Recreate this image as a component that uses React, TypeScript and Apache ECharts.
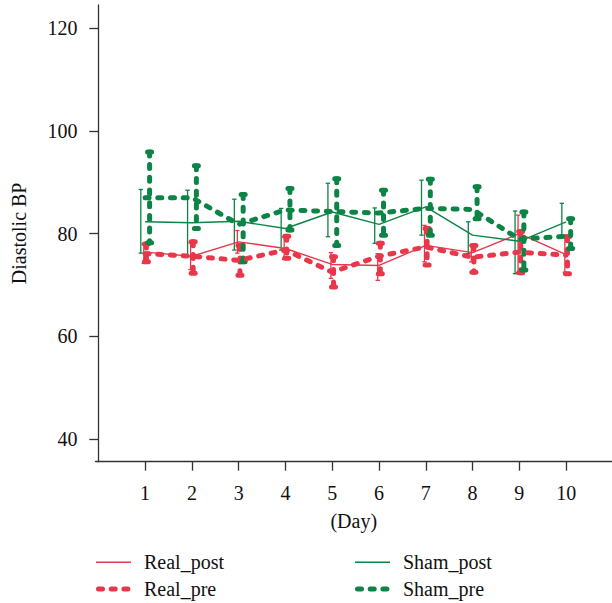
import React, { useEffect, useRef } from "react";
import * as echarts from "echarts";

const days = [1, 2, 3, 4, 5, 6, 7, 8, 9, 10];
const yTicks = [40, 60, 80, 100, 120];

const realPost = [76.4, 75.6, 78.4, 77.1, 74.0, 73.8, 77.7, 76.3, 80.0, 75.9];
const realPostHi = [78.0, 78.2, 80.6, 79.3, 76.3, 76.1, 81.6, 77.7, 83.6, 79.7];
const realPostLo = [74.2, 73.0, 76.2, 75.0, 71.3, 70.9, 74.5, 74.5, 72.4, 72.5];

const realPre = [76.1, 75.6, 74.8, 76.8, 72.5, 75.6, 77.4, 75.4, 76.4, 75.8];
const realPreHi = [78.0, 78.4, 77.7, 79.5, 75.5, 78.1, 81.0, 77.7, 80.4, 79.4];
const realPreLo = [74.5, 72.3, 71.9, 75.2, 69.6, 72.2, 73.9, 72.5, 72.4, 72.2];

const shamPost = [82.3, 82.1, 82.4, 81.0, 84.2, 81.8, 85.2, 79.7, 78.5, 82.3];
const shamPostHi = [88.6, 88.45, 86.7, 84.9, 89.8, 85.0, 90.4, 82.3, 84.4, 85.9];
const shamPostLo = [76.2, 75.5, 76.8, 76.8, 79.4, 78.1, 79.7, 76.1, 72.2, 79.7];

const shamPre = [87.0, 87.0, 81.8, 84.6, 84.3, 84.0, 84.9, 84.7, 78.9, 79.5];
const shamPreHi = [95.9, 93.2, 87.6, 88.8, 90.7, 88.45, 90.6, 89.1, 84.2, 82.9];
const shamPreLo = [78.2, 81.0, 74.5, 80.7, 77.7, 79.7, 79.7, 82.9, 72.9, 77.1];

const legendNames = ["Real_post", "Real_pre", "Sham_post", "Sham_pre"];

const RED = "#E8364A";
const GREEN = "#0B8445";
const FONT = "Liberation Serif";
const FS = 20;
const DASH = [4, 8.7];

function lineSeries(name: string, vals: number[], color: string, pre: boolean) {
  return {
    type: "line",
    name,
    data: days.map((d, i) => [d, vals[i]]),
    symbol: "none",
    itemStyle: { color },
    lineStyle: pre
      ? { color, width: 5, type: DASH, cap: "round" }
      : { color, width: 1.4 },
    z: pre ? 3 : 2,
  };
}

function errSeries(hi: number[], lo: number[], color: string, pre: boolean, dx: number) {
  return {
    type: "custom",
    data: days.map((d, i) => [d, lo[i], hi[i]]),
    encode: { x: 0, y: [1, 2] },
    z: pre ? 3 : 2,
    renderItem: (params: any, api: any) => {
      const x = api.value(0);
      const top = api.coord([x, api.value(2)]);
      const bot = api.coord([x, api.value(1)]);
      const px = top[0] + dx;
      const barStyle = pre
        ? { stroke: color, lineWidth: 5, lineDash: DASH, lineCap: "round", fill: null }
        : { stroke: color, lineWidth: 1.3, fill: null };
      const capW = pre ? 2 : 2.2;
      const capStyle = pre
        ? { stroke: color, lineWidth: 5, lineCap: "round", fill: null }
        : { stroke: color, lineWidth: 1.3, fill: null };
      return {
        type: "group",
        children: [
          { type: "line", shape: { x1: px, y1: top[1], x2: px, y2: bot[1] }, style: barStyle },
          { type: "line", shape: { x1: px - capW, y1: top[1], x2: px + capW, y2: top[1] }, style: capStyle },
          { type: "line", shape: { x1: px - capW, y1: bot[1], x2: px + capW, y2: bot[1] }, style: capStyle },
        ],
      };
    },
  };
}

function legendItem(name: string, color: string, pre: boolean, x: number, y: number) {
  return {
    type: "group",
    children: [
      {
        type: "line",
        shape: pre ? { x1: x + 2.5, y1: y, x2: x + 33, y2: y } : { x1: x, y1: y, x2: x + 35, y2: y },
        style: pre
          ? { stroke: color, lineWidth: 5, lineDash: DASH, lineCap: "round" }
          : { stroke: color, lineWidth: 1.4 },
      },
      {
        type: "text",
        x: x + 48,
        y,
        style: { text: name, font: `${FS}px "${FONT}"`, fill: "#111", textVerticalAlign: "middle", verticalAlign: "middle" },
      },
    ],
  };
}

export default function App() {
  const ref = useRef<HTMLDivElement>(null);
  useEffect(() => {
    if (!ref.current) return;
    const chart = echarts.init(ref.current, undefined, { renderer: "svg" });
    chart.setOption({
      animation: false,
      backgroundColor: "#fff",
      grid: { left: 95.5, top: 5, right: 0, bottom: 141.3, containLabel: false },
      xAxis: {
        type: "value",
        min: -0.06,
        max: 10.98,
        name: "(Day)",
        nameLocation: "middle",
        nameGap: 49,
        nameTextStyle: { fontFamily: FONT, fontSize: FS, color: "#111" },
        axisLine: { show: true, lineStyle: { color: "#333", width: 1.3 } },
        axisTick: { show: true, customValues: days, length: 9, lineStyle: { color: "#333", width: 1.3 } },
        axisLabel: { customValues: days, margin: 21, fontFamily: FONT, fontSize: FS, color: "#111" },
        splitLine: { show: false },
      },
      yAxis: {
        type: "value",
        min: 35.6,
        max: 124.5,
        name: "Diastolic BP",
        nameLocation: "middle",
        nameGap: 67,
        nameTextStyle: { fontFamily: FONT, fontSize: FS, color: "#111" },
        axisLine: { show: true, lineStyle: { color: "#333", width: 1.3 } },
        axisTick: { show: true, customValues: yTicks, length: 9, lineStyle: { color: "#333", width: 1.3 } },
        axisLabel: { customValues: yTicks, margin: 18, fontFamily: FONT, fontSize: FS, color: "#111" },
        splitLine: { show: false },
      },
      graphic: [
        legendItem(legendNames[0], RED, false, 96, 562.3),
        legendItem(legendNames[1], RED, true, 96, 589),
        legendItem(legendNames[2], GREEN, false, 355, 562.3),
        legendItem(legendNames[3], GREEN, true, 355, 589),
      ],
      series: [
        lineSeries(legendNames[0], realPost, RED, false),
        errSeries(realPostHi, realPostLo, RED, false, -1.3),
        lineSeries(legendNames[1], realPre, RED, true),
        errSeries(realPreHi, realPreLo, RED, true, 1.3),
        lineSeries(legendNames[2], shamPost, GREEN, false),
        errSeries(shamPostHi, shamPostLo, GREEN, false, -4.3),
        lineSeries(legendNames[3], shamPre, GREEN, true),
        errSeries(shamPreHi, shamPreLo, GREEN, true, 4.5),
      ],
    });
    return () => chart.dispose();
  }, []);
  return (
    <div
      ref={ref}
      style={{ position: "fixed", left: 0, top: 0, width: 612, height: 603, background: "#fff" }}
    />
  );
}
